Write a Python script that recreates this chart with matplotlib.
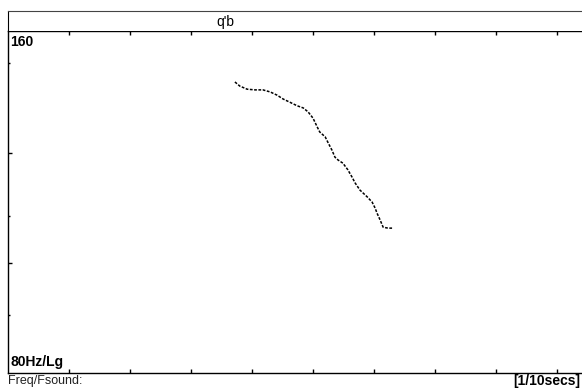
import numpy as np
import matplotlib
matplotlib.use("Agg")
import matplotlib.pyplot as plt
from matplotlib.ticker import FixedLocator, NullFormatter

plt.rcParams['font.family'] = ['Liberation Sans', 'DejaVu Sans']

# pitch contour (seconds, Hz)
times = [0.372, 0.380, 0.392, 0.405, 0.418, 0.430, 0.441, 0.451, 0.462, 0.474,
         0.484, 0.492, 0.500, 0.507, 0.511, 0.520, 0.525, 0.531, 0.536, 0.541,
         0.549, 0.557, 0.564, 0.569, 0.577, 0.589, 0.597, 0.602, 0.605, 0.610,
         0.615, 0.623, 0.630]
pitch = [144.3, 143.1, 142.2, 142.0, 142.0, 141.4, 140.5, 139.4, 138.5, 137.5,
         136.9, 135.8, 134.1, 131.7, 130.4, 129.1, 127.5, 125.7, 123.9, 123.2,
         122.4, 120.8, 119.0, 117.6, 115.9, 114.3, 113.1, 111.7, 110.6, 109.1,
         107.5, 107.3, 107.3]

fmin, fmax = 80, 160
tmax = 0.941
xticks = np.arange(0.1, 0.95, 0.1)
ymajor = [100, 125]
yminor = [90, 110, 150]
title = "q'b"

W, H = 582, 390
fig = plt.figure(figsize=(W / 100, H / 100), dpi=100)

ax = fig.add_axes([8 / W, (H - 373) / H, (W - 8) / W, (373 - 31) / H])
ax.plot(times, pitch, color="black", lw=1.1, linestyle=(0, (1.8, 1.0)))
ax.set_yscale("log")
ax.set_ylim(fmin, fmax)
ax.set_xlim(0, tmax)
ax.spines["right"].set_visible(False)
for s in ["left", "top", "bottom"]:
    ax.spines[s].set_linewidth(1.0)
ax.yaxis.set_major_locator(FixedLocator(ymajor))
ax.yaxis.set_minor_locator(FixedLocator(yminor))
ax.yaxis.set_major_formatter(NullFormatter())
ax.yaxis.set_minor_formatter(NullFormatter())
ax.set_xticks(xticks)
ax.set_xticklabels([])
ax.tick_params(axis="x", direction="in", top=True, bottom=True, length=3, width=1)
ax.tick_params(axis="y", which="major", direction="in", length=3, width=1)
ax.tick_params(axis="y", which="minor", direction="in", length=1.5, width=1)

ax.text(0.004, 0.988, "160", transform=ax.transAxes, ha="left", va="top",
        fontsize=10, fontweight="bold")
ax.text(0.004, 0.012, "80Hz/Lg", transform=ax.transAxes, ha="left", va="bottom",
        fontsize=10, fontweight="bold")

# header box
hdr = fig.add_axes([8 / W, (H - 31) / H, (W - 8) / W, 20 / H])
hdr.set_xticks([])
hdr.set_yticks([])
hdr.spines["right"].set_visible(False)
hdr.spines["bottom"].set_visible(False)
hdr.spines["top"].set_color("#444444")
hdr.text((225 - 8) / (W - 8), 0.45, title, transform=hdr.transAxes,
         ha="center", va="center", fontsize=10)

fig.text(8 / W, (H - 381) / H, "Freq/Fsound:", ha="left", va="center",
         fontsize=9, color="#222222")
fig.text(580 / W, (H - 381) / H, "[1/10secs]", ha="right", va="center",
         fontsize=10, fontweight="bold")

fig.savefig("out.png", dpi=100)
